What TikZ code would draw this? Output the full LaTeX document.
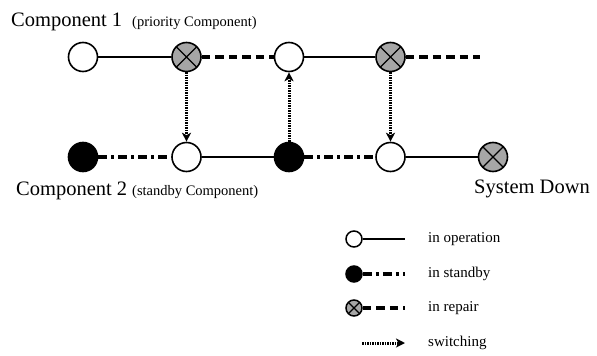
\documentclass[tikz,border=0pt]{standalone}
\usepackage{fontspec}
\setmainfont{Liberation Serif}
\usetikzlibrary{arrows.meta}
\begin{document}
\begin{tikzpicture}[x=1pt,y=-1pt,
  st/.style={circle,draw,line width=1.6pt,minimum size=29pt,inner sep=0pt},
  xmark/.style={path picture={\draw[line width=1.4pt] (path picture bounding box.north west)--(path picture bounding box.south east) (path picture bounding box.north east)--(path picture bounding box.south west);}},
  op/.style={st,fill=white},
  sb/.style={st,fill=black},
  rp/.style={st,fill=black!35,xmark},
  small/.style={minimum size=16pt,line width=1.5pt},
  opl/.style={line width=1.3pt},
  sbl/.style={line width=3.4pt,dash pattern=on 9pt off 4pt on 3pt off 4pt},
  rpl/.style={line width=3.4pt,dash pattern=on 8.5pt off 5pt},
  sw/.style={line width=3pt,dash pattern=on 1.6pt off 0.9pt,-{Stealth[length=9pt,width=9pt,inset=2.5pt]}},
  big/.style={inner sep=0pt,anchor=base west,font=\fontsize{20.5}{23}\selectfont},
  sm/.style={inner sep=0pt,anchor=base west,font=\fontsize{14.5}{17}\selectfont},
  lg/.style={inner sep=0pt,anchor=west,font=\fontsize{15}{18}\selectfont}
]
\useasboundingbox (0,0) rectangle (597,356);
% top row
\node[op] (c1a) at (83,57) {};
\node[rp] (c1b) at (186.5,57) {};
\node[op] (c1c) at (289,57) {};
\node[rp] (c1d) at (390.5,57) {};
\coordinate (c1e) at (480,57);
% bottom row
\node[sb] (c2a) at (83,157) {};
\node[op] (c2b) at (186.5,157) {};
\node[sb] (c2c) at (289,157) {};
\node[op] (c2d) at (390.5,157) {};
\node[rp] (c2e) at (493,157) {};
% connectors
\draw[opl] (c1a) -- (c1b);
\draw[rpl] (c1b) -- (c1c);
\draw[opl] (c1c) -- (c1d);
\draw[rpl] (c1d) -- (c1e);
\draw[sbl] (c2a) -- (c2b);
\draw[opl] (c2b) -- (c2c);
\draw[sbl] (c2c) -- (c2d);
\draw[opl] (c2d) -- (c2e);
\draw[sw] (c1b) -- (c2b);
\draw[sw] (c2c) -- (c1c);
\draw[sw] (c1d) -- (c2d);
% labels
\node[big] (t1) at (11,27) {Component 1};
\node[sm] (t1s) at (132,27) {(priority Component)};
\node[big] (t2) at (16,195) {Component 2};
\node[sm] (t2s) at (132,195) {(standby Component)};
\node[big] (t3) at (474,193) {System Down};
% legend
\node[op,small] (l1) at (354,239) {};
\coordinate (l1e) at (405,239);
\draw[opl] (l1) -- (l1e);
\node[lg] (l1t) at (428,239) {in operation};
\node[sb,small] (l2) at (354,274) {};
\coordinate (l2e) at (405,274);
\draw[sbl] (l2) -- (l2e);
\node[lg] (l2t) at (428,274) {in standby};
\node[rp,small] (l3) at (354,308) {};
\coordinate (l3e) at (405,308);
\draw[rpl] (l3) -- (l3e);
\node[lg] (l3t) at (428,308) {in repair};
\coordinate (l4s) at (362,343);
\coordinate (l4e) at (405,343);
\draw[sw] (l4s) -- (l4e);
\node[lg] (l4t) at (428,343) {switching};
\end{tikzpicture}
\end{document}
